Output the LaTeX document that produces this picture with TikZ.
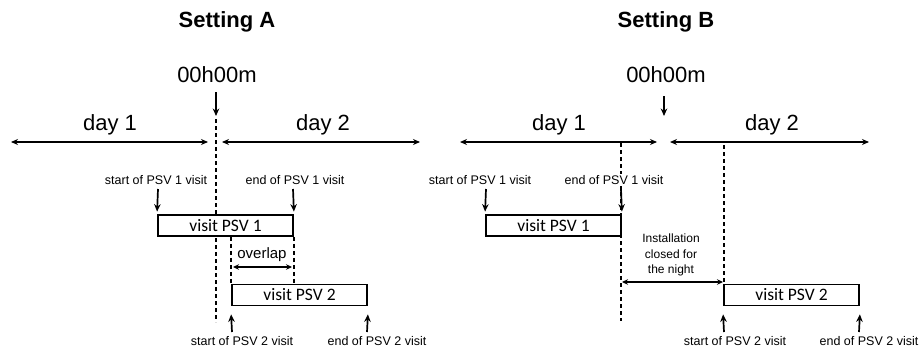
\documentclass[tikz,border=0pt]{standalone}
\usepackage{fontspec}
\setmainfont{Liberation Sans}
\newfontfamily\boxfont{Carlito}
\usetikzlibrary{arrows.meta}
\tikzset{
  arr/.style={line width=1.7pt,-{Stealth[length=7.5pt,width=6.5pt]}},
  dblarr/.style={line width=1.4pt,{Stealth[length=7pt,width=6pt]}-{Stealth[length=7pt,width=6pt]}},
  dblsmall/.style={line width=1.3pt,{Stealth[length=6pt,width=5.5pt]}-{Stealth[length=6pt,width=5.5pt]}},
  midline/.style={line width=1.4pt,dash pattern=on 4pt off 3pt},
  visitbox/.style={draw,fill=white,line width=1.8pt,minimum width=135pt,minimum height=21pt,inner sep=0pt,font=\boxfont\fontsize{17.5}{20}\selectfont},
  titletext/.style={font=\bfseries\fontsize{22}{26}\selectfont},
  bigtext/.style={font=\fontsize{22}{26}\selectfont},
  smalltext/.style={font=\fontsize{12.5}{15}\selectfont,inner sep=1pt},
  midtext/.style={font=\fontsize{15}{18}\selectfont,inner sep=1pt},
}
\begin{document}
\begin{tikzpicture}[x=1pt,y=-1pt]
\useasboundingbox[fill=white] (0,0) rectangle (919,348);

% ---------------- Setting A ----------------
\node[titletext] (titleA) at (227,22) {Setting A};
\node[bigtext] (clockA) at (217,75) {00h00m};
\coordinate (clkA1) at (216,92);
\coordinate (clkA2) at (216,116);
\draw[arr] (clkA1) -- (clkA2);

\node[bigtext] (dayoneA) at (110,125) {day 1};
\node[bigtext] (daytwoA) at (323,125) {day 2};
\coordinate (d1AL) at (11,142);
\coordinate (d1AR) at (208,142);
\coordinate (d2AL) at (222,142);
\coordinate (d2AR) at (420,142);
\draw[dblarr] (d1AL) -- (d1AR);
\draw[dblarr] (d2AL) -- (d2AR);

% midnight line, drawn first so that the boxes cover it
\coordinate (midAtop) at (216,119);
\coordinate (midAbot) at (216,322);
\draw[midline] (midAtop) -- (midAbot);

\node[visitbox] (v1A) at (225.5,225.5) {visit PSV 1};
\node[visitbox] (v2A) at (299.5,295) {visit PSV 2};

\node[smalltext] (s1A) at (156,180) {start of PSV 1 visit};
\node[smalltext] (e1A) at (295,180) {end of PSV 1 visit};
\coordinate (s1Aa) at (158,189);
\coordinate (e1Aa) at (293,189);
\draw[arr] (s1Aa) -- ([yshift=2.5pt]v1A.north west);
\draw[arr] (e1Aa) -- ([yshift=2.5pt]v1A.north east);

% overlap of the two visits
\draw[midline] (v2A.north west |- v1A.south) -- (v2A.north west);
\draw[midline] (v1A.south east) -- (v1A.south east |- v2A.north);
\node[midtext] (ovl) at (262,255) {overlap};
\coordinate (ovlL) at (233,267);
\coordinate (ovlR) at (292,267);
\draw[dblsmall] (ovlL) -- (ovlR);

\node[smalltext] (s2A) at (242,341) {start of PSV 2 visit};
\node[smalltext] (e2A) at (377,341) {end of PSV 2 visit};
\coordinate (s2Aa) at (232,332);
\coordinate (e2Aa) at (367,332);
\draw[arr] (s2Aa) -- ([yshift=-8pt]v2A.south west);
\draw[arr] (e2Aa) -- ([yshift=-8pt]v2A.south east);

% ---------------- Setting B ----------------
\node[titletext] (titleB) at (666,22) {Setting B};
\node[bigtext] (clockB) at (666,75) {00h00m};
\coordinate (clkB1) at (664,96);
\coordinate (clkB2) at (664,116);
\draw[arr] (clkB1) -- (clkB2);

\node[bigtext] (dayoneB) at (559,125) {day 1};
\node[bigtext] (daytwoB) at (772,125) {day 2};
\coordinate (d1BL) at (460,142);
\coordinate (d1BR) at (657,142);
\coordinate (d2BL) at (670,142);
\coordinate (d2BR) at (869,142);
\draw[dblarr] (d1BL) -- (d1BR);
\draw[dblarr] (d2BL) -- (d2BR);

% end of the first visit and start of the second one
\coordinate (endBtop) at (621,143);
\coordinate (endBbot) at (621,321);
\draw[midline] (endBtop) -- (endBbot);
\coordinate (startBtop) at (724,145);
\coordinate (startBbot) at (724,284);
\draw[midline] (startBtop) -- (startBbot);

\node[visitbox] (v1B) at (553.5,225.5) {visit PSV 1};
\node[visitbox] (v2B) at (791.5,295) {visit PSV 2};

\node[smalltext] (s1B) at (480,180) {start of PSV 1 visit};
\node[smalltext,fill=white] (e1B) at (614,180) {end of PSV 1 visit};
\coordinate (s1Ba) at (486,189);
\coordinate (e1Ba) at (621,189);
\draw[arr] (s1Ba) -- ([yshift=2.5pt]v1B.north west);
\draw[arr] (e1Ba) -- ([yshift=2.5pt]v1B.north east);

\node[font=\fontsize{12}{15.5}\selectfont,align=center,inner sep=1pt] (night) at (671,255) {Installation\\closed for\\the night};
\coordinate (nightL) at (622,282);
\coordinate (nightR) at (723,282);
\draw[dblsmall] (nightL) -- (nightR);

\node[smalltext] (s2B) at (735,341) {start of PSV 2 visit};
\node[smalltext] (e2B) at (869,341) {end of PSV 2 visit};
\coordinate (s2Ba) at (724,332);
\coordinate (e2Ba) at (859,332);
\draw[arr] (s2Ba) -- ([yshift=-8pt]v2B.south west);
\draw[arr] (e2Ba) -- ([yshift=-8pt]v2B.south east);
\end{tikzpicture}
\end{document}
